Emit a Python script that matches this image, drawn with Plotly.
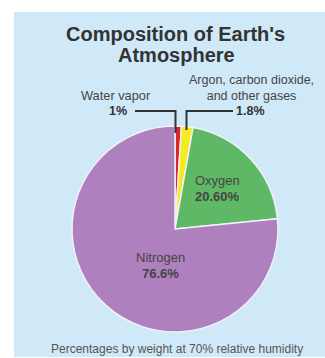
import plotly.graph_objects as go

# Atmosphere composition by weight (percent)
gases = ["Water vapor", "Argon, carbon dioxide,<br>and other gases", "Oxygen", "Nitrogen"]
percent = [1.0, 1.8, 20.6, 76.6]
percent_text = ["1%", "1.8%", "20.60%", "76.6%"]
colors = ["#d8262b", "#f3ec1f", "#5fb866", "#ae80bd"]

W, H = 325, 358


def px(x):
    return x / W


def py(y):
    return 1 - y / H


fig = go.Figure()

# Pie centred at (175, 229) px with a radius of about 103 px
cx, cy, r = 175, 229, 103
fig.add_trace(go.Pie(
    labels=gases,
    values=percent,
    sort=False,
    direction="clockwise",
    rotation=0,
    marker=dict(colors=colors, line=dict(color="#f4f0f6", width=1.5)),
    textinfo="none",
    hoverinfo="label+percent",
    showlegend=False,
    domain=dict(x=[px(cx - r), px(cx + r)], y=[py(cy + r), py(cy - r)]),
))

dark = "#333333"
label_color = "#454545"
font = "Liberation Sans, Arial, sans-serif"

annotations = [
    # Title
    dict(x=px(175), y=py(34), text="<b>Composition of Earth's</b>", font=dict(size=20, color=dark)),
    dict(x=px(176), y=py(55), text="<b>Atmosphere</b>", font=dict(size=20, color=dark)),
    # Outside labels
    dict(x=px(116), y=py(96), text=gases[0], font=dict(size=12.8, color=label_color)),
    dict(x=px(118), y=py(111), text="<b>" + percent_text[0] + "</b>", font=dict(size=12.5, color=dark)),
    dict(x=px(252), y=py(88), text=gases[1], font=dict(size=12.5, color=label_color)),
    dict(x=px(250), y=py(111), text="<b>" + percent_text[1] + "</b>", font=dict(size=12.5, color=dark)),
    # Inside labels
    dict(x=px(217), y=py(180), text=gases[2], font=dict(size=13, color=label_color)),
    dict(x=px(217), y=py(196), text="<b>" + percent_text[2] + "</b>", font=dict(size=13, color=label_color)),
    dict(x=px(160), y=py(257), text=gases[3], font=dict(size=13, color=label_color)),
    dict(x=px(160), y=py(273), text="<b>" + percent_text[3] + "</b>", font=dict(size=13, color=label_color)),
    # Footnote
    dict(x=px(177), y=py(349), text="Percentages by weight at 70% relative humidity",
         font=dict(size=12, color="#555555")),
]
for a in annotations:
    a.update(xref="paper", yref="paper", showarrow=False, xanchor="center", yanchor="middle")
    a["font"]["family"] = font

shapes = [
    # Light blue panel behind the chart
    dict(type="rect", xref="paper", yref="paper", x0=px(14), x1=px(325), y0=py(357), y1=py(12),
         fillcolor="#cfe9f8", line=dict(width=0), layer="below"),
    # Leader line: water vapor
    dict(type="path", xref="paper", yref="paper",
         path=f"M {px(135)},{py(111)} L {px(175.5)},{py(111)} L {px(175.5)},{py(133)}",
         line=dict(color=dark, width=2)),
    # Leader line: argon and other gases
    dict(type="path", xref="paper", yref="paper",
         path=f"M {px(233)},{py(111)} L {px(186.5)},{py(111)} L {px(186.5)},{py(130)}",
         line=dict(color=dark, width=2)),
]

fig.update_layout(
    width=W, height=H,
    margin=dict(l=0, r=0, t=0, b=0),
    paper_bgcolor="white",
    plot_bgcolor="white",
    annotations=annotations,
    shapes=shapes,
    font=dict(family=font),
)

fig.write_html("out.html")
